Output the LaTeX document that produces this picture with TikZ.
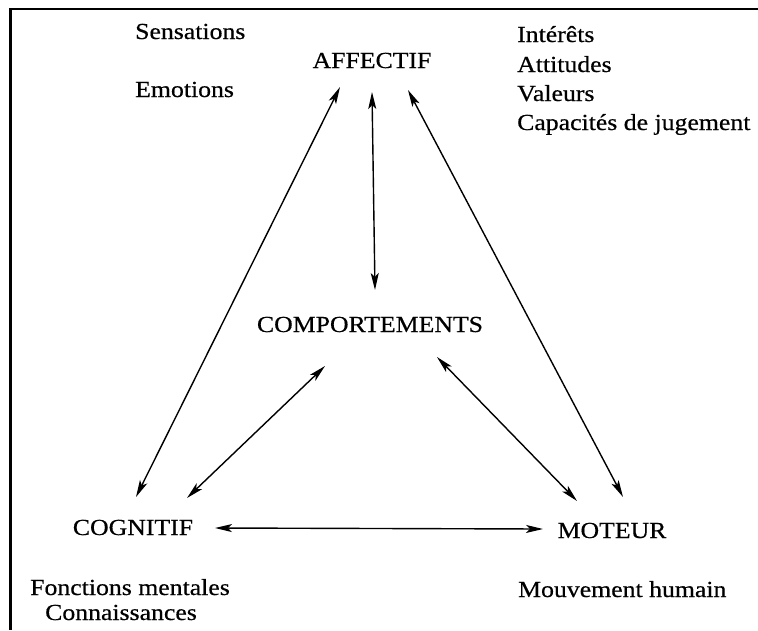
\documentclass[tikz,border=0pt]{standalone}
\usepackage{fontspec}
\setmainfont[FakeStretch=1.12,FakeBold=0.5]{Liberation Serif}
\usetikzlibrary{arrows.meta}
\tikzset{
  lbl/.style={inner sep=0pt, font=\fontsize{23}{28}\selectfont, anchor=base},
  lbll/.style={lbl, anchor=base west},
  link/.style={line width=1.4pt, arrows={Stealth[length=17pt,width=8pt,inset=4pt]-Stealth[length=17pt,width=8pt,inset=4pt]}},
  frame/.style={line width=2.8pt}
}
\begin{document}
\begin{tikzpicture}[x=1pt,y=-1pt]
\useasboundingbox (0,0) rectangle (758,630);
\fill[white] (0,0) rectangle (758,630);
\draw[frame] (10.5,630) -- (10.5,9) -- (758,9);
% main labels
\node[lbl] (AFF) at (372,68) {AFFECTIF};
\node[lbl] (COMP) at (370,332) {COMPORTEMENTS};
\node[lbl] (COG) at (133,535) {COGNITIF};
\node[lbl] (MOT) at (612,538) {MOTEUR};
% side lists
\node[lbll] (sens) at (135,39) {Sensations};
\node[lbll] (emo) at (135,97) {Emotions};
\node[lbll] (int) at (517,42) {Intérêts};
\node[lbll] (att) at (517,72) {Attitudes};
\node[lbll] (val) at (517,101) {Valeurs};
\node[lbll] (cap) at (517,130) {Capacités de jugement};
\node[lbll] (fonc) at (30,595) {Fonctions mentales};
\node[lbll] (conn) at (45,620) {Connaissances};
\node[lbll] (mouv) at (518,597) {Mouvement humain};
% connectors
\draw[link] ([shift={(-32,19)}]AFF.base) -- ([shift={(3,-38)}]COG.base);
\draw[link] ([shift={(0,24)}]AFF.base) -- ([shift={(5,-42)}]COMP.base);
\draw[link] ([shift={(36,22)}]AFF.base) -- ([shift={(11,-41)}]MOT.base);
\draw[link] ([shift={(-45,34)}]COMP.base) -- ([shift={(54,-37)}]COG.base);
\draw[link] ([shift={(67,25)}]COMP.base) -- ([shift={(-35,-37)}]MOT.base);
\draw[link] ([shift={(82,-7)}]COG.base) -- ([shift={(-69,-9)}]MOT.base);
\end{tikzpicture}
\end{document}
